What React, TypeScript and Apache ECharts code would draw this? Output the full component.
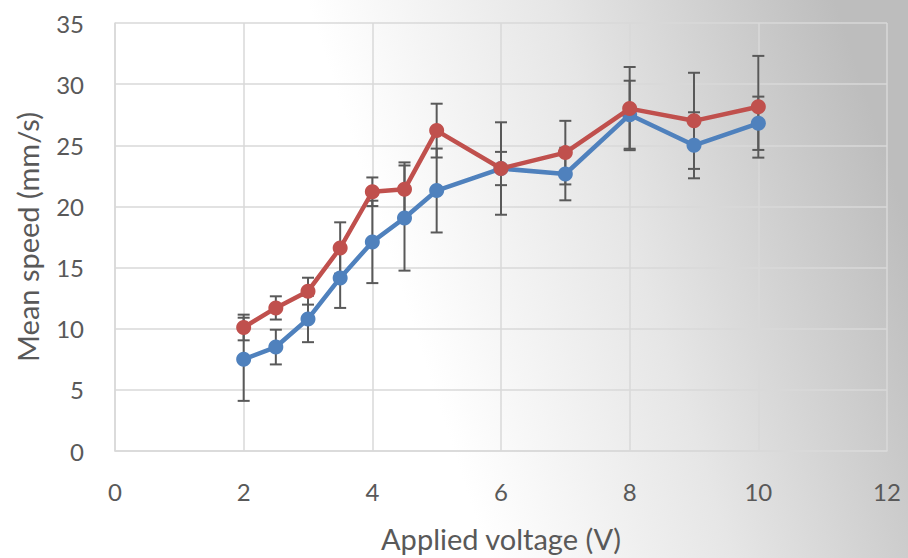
import React, { useEffect, useRef } from "react";
import * as echarts from "echarts";

const voltage = [2, 2.5, 3, 3.5, 4, 4.5, 5, 6, 7, 8, 9, 10];
const blueSpeed = [7.5, 8.5, 10.8, 14.15, 17.1, 19.05, 21.3, 23.1, 22.65, 27.5, 25.0, 26.8];
const blueErr = [3.4, 1.42, 1.9, 2.45, 3.37, 4.3, 3.43, 3.78, 2.15, 2.78, 2.7, 2.18];
const redSpeed = [10.1, 11.7, 13.07, 16.6, 21.2, 21.4, 26.2, 23.1, 24.4, 28.0, 27.0, 28.15];
const redErr = [1.05, 0.95, 1.1, 2.1, 1.17, 2.2, 2.2, 1.36, 2.6, 3.4, 3.93, 4.16];
const xTicks = [0, 2, 4, 6, 8, 10, 12];
const yTicks = [0, 5, 10, 15, 20, 25, 30, 35];

const FONT = "Lato";
const TEXT = "#595959";

function errData(vals: number[], errs: number[]) {
  return voltage.map((x, i) => [x, vals[i] - errs[i], vals[i] + errs[i]]);
}

function renderErr(params: any, api: any) {
  const x = api.value(0);
  const lo = api.coord([x, api.value(1)]);
  const hi = api.coord([x, api.value(2)]);
  const cap = 6;
  const style = { stroke: "#595959", lineWidth: 2 };
  return {
    type: "group",
    children: [
      { type: "line", shape: { x1: lo[0], y1: lo[1], x2: hi[0], y2: hi[1] }, style },
      { type: "line", shape: { x1: lo[0] - cap, y1: lo[1], x2: lo[0] + cap, y2: lo[1] }, style },
      { type: "line", shape: { x1: hi[0] - cap, y1: hi[1], x2: hi[0] + cap, y2: hi[1] }, style },
    ],
  };
}

export default function App() {
  const ref = useRef<HTMLDivElement>(null);
  useEffect(() => {
    if (!ref.current) return;
    const chart = echarts.init(ref.current, undefined, { renderer: "svg" });
    chart.setOption({
      animation: false,
      backgroundColor: {
        type: "linear",
        x: 0,
        y: 0.6,
        x2: 1,
        y2: 0.4,
        colorStops: [
          { offset: 0, color: "#ffffff" },
          { offset: 0.44, color: "#ffffff" },
          { offset: 0.7, color: "#e6e6e6" },
          { offset: 1, color: "#bdbdbd" },
        ],
      },
      grid: { left: 115, right: 21, top: 23, bottom: 106, containLabel: false },
      xAxis: {
        type: "value",
        min: 0,
        max: 12,
        interval: 2,
        name: "Applied voltage (V)",
        nameLocation: "middle",
        nameGap: 73,
        nameTextStyle: { fontFamily: FONT, fontSize: 29, color: TEXT },
        axisLine: { show: true, lineStyle: { color: "#d9d9d9", width: 1.5 } },
        axisTick: { show: false },
        axisLabel: {
          margin: 28,
          fontFamily: FONT,
          fontSize: 24,
          color: TEXT,
          formatter: (v: number) => (xTicks.includes(v) ? String(v) : ""),
        },
        splitLine: { show: true, lineStyle: { color: "#d9d9d9", width: 1.5 } },
      },
      yAxis: {
        type: "value",
        min: 0,
        max: 35,
        interval: 5,
        name: "Mean speed (mm/s)",
        nameLocation: "middle",
        nameGap: 73,
        nameTextStyle: { fontFamily: FONT, fontSize: 29, color: TEXT },
        axisLine: { show: true, lineStyle: { color: "#d9d9d9", width: 1.5 } },
        axisTick: { show: false },
        axisLabel: {
          margin: 31,
          fontFamily: FONT,
          fontSize: 24,
          color: TEXT,
          formatter: (v: number) => (yTicks.includes(v) ? String(v) : ""),
        },
        splitLine: { show: true, lineStyle: { color: "#d9d9d9", width: 1.5 } },
      },
      series: [
        {
          type: "custom",
          name: "blueErr",
          renderItem: renderErr,
          data: errData(blueSpeed, blueErr),
          encode: { x: 0, y: [1, 2] },
          z: 1,
        },
        {
          type: "custom",
          name: "redErr",
          renderItem: renderErr,
          data: errData(redSpeed, redErr),
          encode: { x: 0, y: [1, 2] },
          z: 1,
        },
        {
          type: "line",
          name: "Blue",
          data: voltage.map((x, i) => [x, blueSpeed[i]]),
          symbol: "circle",
          symbolSize: 15,
          itemStyle: { color: "#4f81bd" },
          lineStyle: { color: "#4f81bd", width: 4.5 },
          z: 3,
        },
        {
          type: "line",
          name: "Red",
          data: voltage.map((x, i) => [x, redSpeed[i]]),
          symbol: "circle",
          symbolSize: 15,
          itemStyle: { color: "#c0504d" },
          lineStyle: { color: "#c0504d", width: 4.5 },
          z: 4,
        },
      ],
    });
    return () => chart.dispose();
  }, []);
  return (
    <div
      ref={ref}
      style={{ position: "absolute", left: 0, top: 0, width: 908, height: 558 }}
    />
  );
}
